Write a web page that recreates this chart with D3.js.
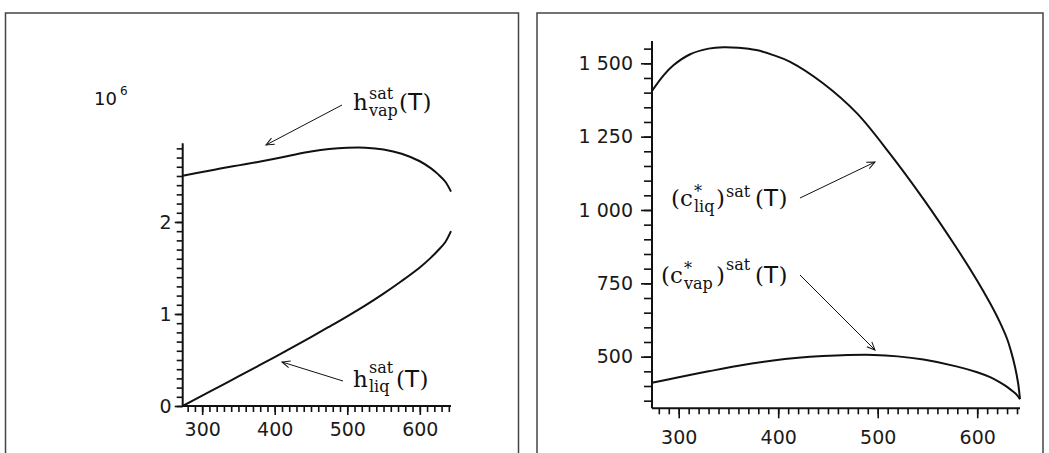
<!DOCTYPE html>
<html>
<head>
<meta charset="utf-8">
<script src="https://cdn.jsdelivr.net/npm/d3@7"></script>
<style>
  html, body { margin: 0; padding: 0; background: #fff; }
  svg { display: block; }
  .tick-label { font-family: "DejaVu Sans", sans-serif; font-size: 19px; fill: #1a1a1a; }
  .serif { font-family: "DejaVu Serif", "Liberation Serif", serif; fill: #111; }
  .sans { font-family: "DejaVu Sans", sans-serif; fill: #111; }
</style>
</head>
<body>
<svg id="chart" width="1049" height="453"></svg>
<script>
// ---------------- DATA ----------------
// Left panel: saturated enthalpies (units of 10^6)
const tempVapLeft = [273.16, 300, 325, 350, 375, 400, 425, 450, 475, 500, 525, 550, 575, 600, 615, 625, 635, 643];
const hVap        = [2.503, 2.543, 2.58, 2.615, 2.65, 2.688, 2.728, 2.765, 2.792, 2.806, 2.807, 2.788, 2.742, 2.66, 2.585, 2.52, 2.44, 2.33];
const tempLiqLeft = [273.16, 300, 325, 350, 375, 400, 425, 450, 475, 500, 525, 550, 575, 600, 615, 625, 635, 643];
const hLiq        = [0, 0.112, 0.217, 0.321, 0.426, 0.532, 0.641, 0.749, 0.861, 0.975, 1.094, 1.222, 1.359, 1.506, 1.61, 1.69, 1.78, 1.9];

// Right panel: saturated c*
const tempLiqRight = [273.16, 285, 295, 311, 330, 345, 360, 378, 395, 412, 445, 479, 512, 546, 579, 600, 613, 622, 630, 634, 638, 641, 643];
const cLiq         = [1406, 1460, 1494, 1530, 1550, 1555, 1553, 1545, 1528, 1505, 1432, 1330, 1193, 1037, 872, 759, 682, 623, 561, 518, 465, 412, 355];
const tempVapRight = [273.16, 300, 330, 360, 395, 420, 445, 470, 496, 520, 546, 579, 600, 613, 622, 630, 636, 640, 643];
const cVap         = [411, 430, 450, 469, 487, 496, 502, 505.5, 506, 501, 490, 467, 447, 430, 414, 397, 381, 369, 355];

// Ticks
const xMajorTicks = [300, 400, 500, 600];
const xMajorLabels = ["300", "400", "500", "600"];
const xMinorTicks = d3.range(280, 641, 10);
const leftYMajorTicks = [0, 1, 2];
const leftYMajorLabels = ["0", "1", "2"];
const leftYMinorTicks = d3.range(0, 29).map(i => i / 10);
const rightYMajorTicks = [500, 750, 1000, 1250, 1500];
const rightYMajorLabels = ["500", "750", "1 000", "1 250", "1 500"];
const rightYMinorTicks = d3.range(350, 1551, 50);

const tDomain = [273.16, 643];

// ---------------- DRAW ----------------
const svg = d3.select("#chart");
const ink = "#111";

// panel frames
svg.append("rect").attr("x", 5.5).attr("y", 13).attr("width", 513).attr("height", 460)
  .attr("fill", "none").attr("stroke", "#444").attr("stroke-width", 1.5);
svg.append("rect").attr("x", 537).attr("y", 13).attr("width", 506).attr("height", 460)
  .attr("fill", "none").attr("stroke", "#444").attr("stroke-width", 1.5);

// arrow marker
const defs = svg.append("defs");
defs.append("marker").attr("id", "arr").attr("markerUnits", "userSpaceOnUse")
  .attr("viewBox", "-10 -6 12 12").attr("refX", 0).attr("refY", 0)
  .attr("markerWidth", 12).attr("markerHeight", 12).attr("orient", "auto")
  .append("path").attr("d", "M-8,-3.5 L0,0 L-8,3.5").attr("fill", "none")
  .attr("stroke", ink).attr("stroke-width", 1);

function drawAxes(g, x, y, opt) {
  const x0 = x.range()[0], y0 = y.range()[0];
  g.append("g").attr("transform", `translate(0,${y0})`)
    .call(d3.axisBottom(x).tickValues(xMinorTicks).tickSize(opt.xMinor).tickFormat("").tickSizeOuter(0))
    .call(s => s.select(".domain").remove())
    .call(s => s.selectAll("line").attr("stroke", ink).attr("stroke-width", 1.6));
  g.append("g").attr("transform", `translate(0,${y0})`)
    .call(d3.axisBottom(x).tickValues(xMajorTicks).tickSize(opt.xMajor)
      .tickFormat((d, i) => xMajorLabels[i]).tickSizeOuter(0).tickPadding(opt.xPad))
    .call(s => s.select(".domain").remove())
    .call(s => s.selectAll("line").attr("stroke", ink).attr("stroke-width", 1.6))
    .call(s => s.selectAll("text").attr("class", "tick-label").attr("font-size", null).attr("font-family", null));
  g.append("g").attr("transform", `translate(${x0},0)`)
    .call(d3.axisLeft(y).tickValues(opt.yMinor).tickSize(opt.yMinorLen).tickFormat("").tickSizeOuter(0))
    .call(s => s.select(".domain").remove())
    .call(s => s.selectAll("line").attr("stroke", ink).attr("stroke-width", 1.6));
  g.append("g").attr("transform", `translate(${x0},0)`)
    .call(d3.axisLeft(y).tickValues(opt.yMajor).tickSize(opt.yMajorLen)
      .tickFormat((d, i) => opt.yLabels[i]).tickSizeOuter(0).tickPadding(opt.yPad))
    .call(s => s.select(".domain").remove())
    .call(s => s.selectAll("line").attr("stroke", ink).attr("stroke-width", 1.6))
    .call(s => s.selectAll("text").attr("class", "tick-label").attr("font-size", null).attr("font-family", null));
  g.append("line").attr("x1", x0).attr("x2", x.range()[1]).attr("y1", y0).attr("y2", y0)
    .attr("stroke", ink).attr("stroke-width", 2);
  g.append("line").attr("x1", x0).attr("x2", x0).attr("y1", y0).attr("y2", y.range()[1])
    .attr("stroke", ink).attr("stroke-width", 2);
}

function drawCurve(g, x, y, ts, vs) {
  const line = d3.line().x((d, i) => x(ts[i])).y(d => y(d)).curve(d3.curveCatmullRom.alpha(0.5));
  g.append("path").attr("d", line(vs)).attr("fill", "none")
    .attr("stroke", ink).attr("stroke-width", 2).attr("stroke-linejoin", "round");
}

function arrow(g, x1, y1, x2, y2) {
  g.append("line").attr("x1", x1).attr("y1", y1).attr("x2", x2).attr("y2", y2)
    .attr("stroke", ink).attr("stroke-width", 1).attr("marker-end", "url(#arr)");
}

// A math label: one <text> whose pieces are positioned tspans
// parts: [text, cls, size, x, y]
function mathLabel(g, parts) {
  const t = g.append("text");
  parts.forEach(p => {
    t.append("tspan").attr("class", p[1]).attr("font-size", p[2])
      .attr("x", p[3]).attr("y", p[4]).text(p[0]);
  });
  return t;
}
function parenTParts(x, y) {
  return [["(", "serif", 23, x, y], ["T", "sans", 23, x + 9, y], [")", "serif", 23, x + 23.5, y]];
}

// ----- Left panel -----
const xL = d3.scaleLinear().domain(tDomain).range([182.7, 451]);
const yL = d3.scaleLinear().domain([0, 2.855]).range([406, 143.3]);
const gL = svg.append("g");
drawAxes(gL, xL, yL, {
  xMinor: 6, xMajor: 9, xPad: 8,
  yMinor: leftYMinorTicks, yMinorLen: 6, yMajor: leftYMajorTicks, yMajorLen: 8,
  yLabels: leftYMajorLabels, yPad: 3
});
drawCurve(gL, xL, yL, tempVapLeft, hVap);
drawCurve(gL, xL, yL, tempLiqLeft, hLiq);

// 10^6 multiplier
mathLabel(gL, [["10", "sans", 18, 94, 105], ["6", "sans", 12, 120, 95]]);

// h_vap label
mathLabel(gL, [["h", "serif", 23, 353, 110], ["sat", "serif", 16, 369, 99], ["vap", "serif", 16, 369, 116]]
  .concat(parenTParts(399, 110)));
arrow(gL, 342, 105, 266, 145);

// h_liq label
mathLabel(gL, [["h", "serif", 23, 353, 387], ["sat", "serif", 16, 369, 373], ["liq", "serif", 16, 369, 392]]
  .concat(parenTParts(396, 387)));
arrow(gL, 343, 381, 282, 362);

// ----- Right panel -----
const xR = d3.scaleLinear().domain(tDomain).range([652, 1020]);
const yR = d3.scaleLinear().domain([324, 1576]).range([408.3, 41]);
const gR = svg.append("g");
drawAxes(gR, xR, yR, {
  xMinor: 6, xMajor: 10, xPad: 12,
  yMinor: rightYMinorTicks, yMinorLen: 8, yMajor: rightYMajorTicks, yMajorLen: 11,
  yLabels: rightYMajorLabels, yPad: 8
});
drawCurve(gR, xR, yR, tempLiqRight, cLiq);
drawCurve(gR, xR, yR, tempVapRight, cVap);

// (c*_liq)^sat(T)
mathLabel(gR, [["(", "serif", 23, 671, 206], ["c", "serif", 23, 680, 206], ["*", "serif", 16, 694, 197],
  ["liq", "serif", 16, 694, 212], [")", "serif", 23, 716, 206], ["sat", "serif", 16, 726, 197]]
  .concat(parenTParts(755, 206)));
arrow(gR, 800, 198, 875, 162);

// (c*_vap)^sat(T)
mathLabel(gR, [["(", "serif", 23, 661, 283], ["c", "serif", 23, 670, 283], ["*", "serif", 16, 684, 274],
  ["vap", "serif", 16, 684, 289], [")", "serif", 23, 716, 283], ["sat", "serif", 16, 726, 270]]
  .concat(parenTParts(755, 283)));
arrow(gR, 800, 275, 875, 350);
</script>
</body>
</html>
